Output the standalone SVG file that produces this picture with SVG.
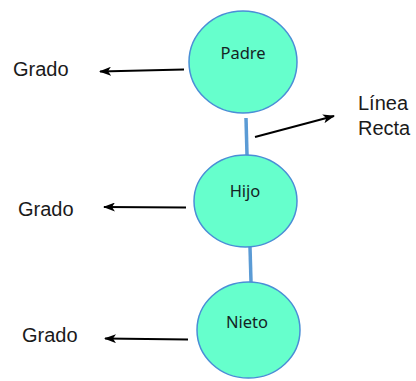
<svg xmlns="http://www.w3.org/2000/svg" width="416" height="381" viewBox="0 0 416 381">
  <defs>
    <marker id="head" viewBox="0 0 12 9" refX="11" refY="4.5" markerWidth="12" markerHeight="9" markerUnits="userSpaceOnUse" orient="auto">
      <path d="M0,0 L12,4.5 L0,9 L3,4.5 Z" fill="#000"/>
    </marker>
    <style>
      .node { fill: #66FFCC; stroke: #4A8ED6; stroke-width: 1.5; }
      .name { font-family: "Noto Sans", "Open Sans", sans-serif; font-size: 16.5px; fill: #142424; text-anchor: middle; }
      .label { font-family: "Liberation Sans", Arial, sans-serif; font-size: 20px; fill: #1a1a1a; }
      .link { stroke: #5B9BD5; stroke-width: 3.5; fill: none; }
      .arrow { stroke: #000; stroke-width: 2; fill: none; marker-end: url(#head); }
    </style>
  </defs>

  <g id="connectors">
    <line class="link" x1="246" y1="118" x2="247" y2="155"/>
    <line class="link" x1="250" y1="247" x2="251" y2="282"/>
    <line class="arrow" x1="184" y1="69.5" x2="100" y2="71.5"/>
    <line class="arrow" x1="186" y1="207.5" x2="104" y2="207"/>
    <line class="arrow" x1="188" y1="339.5" x2="105" y2="338.5"/>
    <line class="arrow" x1="255" y1="137" x2="334" y2="116"/>
  </g>

  <g id="padre">
    <ellipse class="node" cx="243" cy="62" rx="54" ry="51"/>
    <text class="name" x="243" y="59">Padre</text>
  </g>
  <g id="hijo">
    <ellipse class="node" cx="245.5" cy="201" rx="51.5" ry="46"/>
    <text class="name" x="245" y="197">Hijo</text>
  </g>
  <g id="nieto">
    <ellipse class="node" cx="248.5" cy="330" rx="51.5" ry="48"/>
    <text class="name" x="247" y="328">Nieto</text>
  </g>

  <g id="labels">
    <text class="label" x="13" y="76">Grado</text>
    <text class="label" x="18" y="216">Grado</text>
    <text class="label" x="22" y="342">Grado</text>
    <text class="label" x="358" y="110">Línea</text>
    <text class="label" x="358" y="135">Recta</text>
  </g>
</svg>
